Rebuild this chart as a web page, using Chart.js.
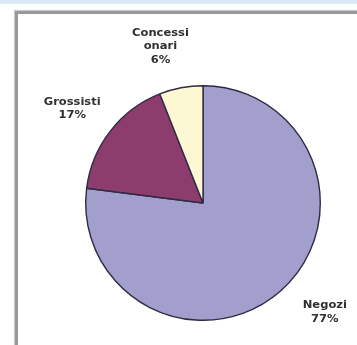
<!DOCTYPE html>
<html>
<head>
<meta charset="utf-8">
<script src="https://cdn.jsdelivr.net/npm/chart.js@4"></script>
<style>
  html, body { margin: 0; padding: 0; background: #fff; }
  #wrap { position: relative; width: 357px; height: 345px; overflow: hidden; background: #fff; }
  #band { position: absolute; left: 0; top: 0; width: 357px; height: 4px; background: #dbe8f7; }
  #frame { position: absolute; left: 15px; top: 11px; width: 400px; height: 400px;
           border-left: 3px solid #999; border-top: 3px solid #999; box-shadow: -1px -1px 1px #ccc; }
  #c { position: absolute; left: 0; top: 0; }
</style>
</head>
<body>
<div id="wrap">
  <div id="band"></div>
  <div id="frame"></div>
  <canvas id="c" width="357" height="345"></canvas>
</div>
<script>
const categories = ['Negozi', 'Grossisti', ['Concessi', 'onari']];
const shares = [77, 17, 6];
const sliceColors = ['#a39fcc', '#8c3d6d', '#fcf8d3'];

const labelOffsets = [[14, -13], [-2, 6], [-12, 4]];

const outsideLabels = {
  id: 'outsideLabels',
  afterDatasetsDraw(chart) {
    const ctx = chart.ctx;
    const meta = chart.getDatasetMeta(0);
    const total = shares.reduce((a, b) => a + b, 0);
    ctx.save();
    ctx.fillStyle = '#303030';
    ctx.font = 'bold 10px "DejaVu Sans"';
    ctx.textAlign = 'center';
    ctx.textBaseline = 'middle';
    meta.data.forEach((arc, i) => {
      const p = arc.getProps(['x', 'y', 'startAngle', 'endAngle', 'outerRadius'], true);
      const mid = (p.startAngle + p.endAngle) / 2;
      const d = p.outerRadius * 1.39;
      const cx = p.x + Math.cos(mid) * d + labelOffsets[i][0];
      const cy = p.y + Math.sin(mid) * d + labelOffsets[i][1];
      const name = categories[i];
      const lines = (Array.isArray(name) ? name.slice() : [name]);
      lines.push(Math.round(shares[i] / total * 100) + '%');
      const lh = 13.5;
      const top = cy - (lines.length - 1) * lh / 2;
      lines.forEach((t, k) => {
        ctx.save();
        ctx.translate(cx, top + k * lh);
        ctx.scale(1.15, 1);
        ctx.fillText(t, 0, 0);
        ctx.restore();
      });
    });
    ctx.restore();
  }
};

new Chart(document.getElementById('c'), {
  type: 'pie',
  data: {
    labels: categories,
    datasets: [{
      data: shares,
      backgroundColor: sliceColors,
      borderColor: '#2f2a45',
      borderWidth: 1.4
    }]
  },
  options: {
    responsive: false,
    animation: false,
    layout: { padding: { left: 85, top: 85, right: 36, bottom: 24 } },
    plugins: {
      legend: { display: false },
      tooltip: { enabled: false }
    }
  },
  plugins: [outsideLabels]
});
</script>
</body>
</html>
